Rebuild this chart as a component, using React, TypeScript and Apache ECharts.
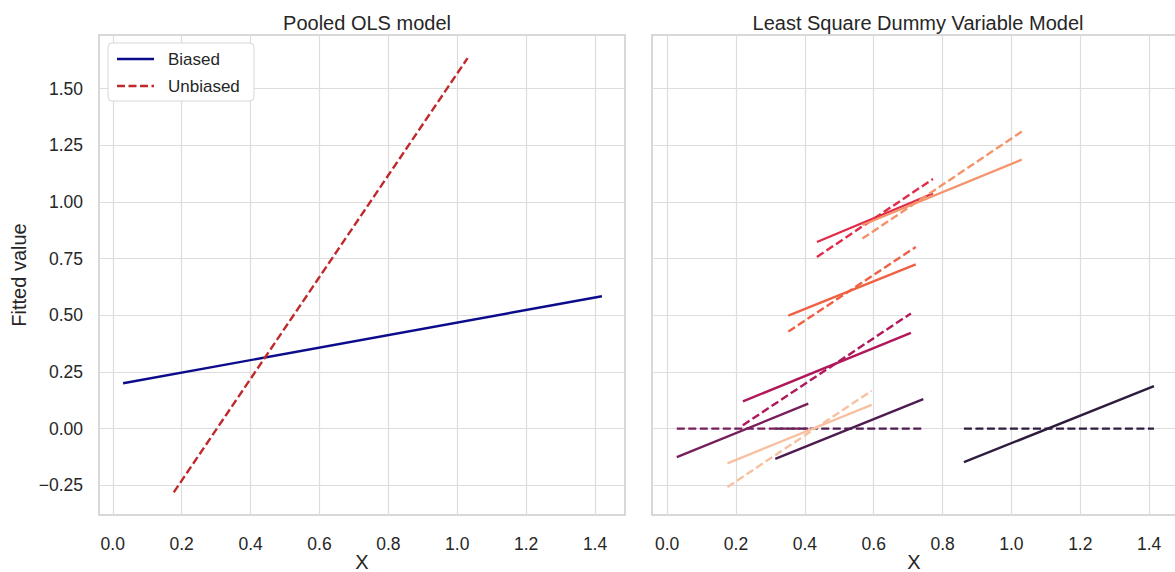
import React, { useEffect, useRef } from "react";
import * as echarts from "echarts";

// ---------- data ----------
const xTicks = [0, 0.2, 0.4, 0.6, 0.8, 1.0, 1.2, 1.4];
const yTicks = [-0.25, 0, 0.25, 0.5, 0.75, 1.0, 1.25, 1.5];

// Pooled OLS model
const biasedX = [0.03, 1.42];
const biasedY = [0.2, 0.584];
const unbiasedX = [0.177, 1.03];
const unbiasedY = [-0.281, 1.634];

// LSDV model, one entry per group
const groupXStart = [0.862, 0.314, 0.028, 0.22, 0.435, 0.352, 0.567, 0.175];
const groupXEnd = [1.414, 0.744, 0.41, 0.708, 0.772, 0.722, 1.03, 0.594];
const solidYStart = [-0.148, -0.133, -0.126, 0.12, 0.823, 0.498, 0.898, -0.153];
const solidYEnd = [0.187, 0.13, 0.11, 0.422, 1.037, 0.724, 1.186, 0.105];
const dashYStart = [0, 0, 0, 0.015, 0.757, 0.428, 0.838, -0.258];
const dashYEnd = [0, 0, 0, 0.508, 1.101, 0.801, 1.31, 0.167];
const groupColors = [
  "#2e1c3e",
  "#4d1b4f",
  "#771f5a",
  "#b0185a",
  "#e02c48",
  "#f06043",
  "#f5936a",
  "#f7c1a1",
];

const FONT = "'Liberation Sans', Arial, sans-serif";
const TXT = "#262626";
const GRID = "#dddddd";
const DASH = [8, 3.5];
const LW = 2.4;

export default function App() {
  const ref = useRef<HTMLDivElement>(null);

  useEffect(() => {
    document.body.style.margin = "0";
    const chart = echarts.init(ref.current!, null, { renderer: "svg" });

    const fmtY = (v: number) =>
      (v < 0 ? "\u2212" : "") + Math.abs(v).toFixed(2);
    const fmtX = (v: number) => v.toFixed(1);

    const mkX = (gi: number, min: number, max: number) => ({
      type: "value",
      gridIndex: gi,
      min,
      max,
      name: "X",
      nameLocation: "middle",
      nameGap: 37,
      nameMoveOverlap: false,
      nameTextStyle: { fontSize: 20, color: TXT, fontFamily: FONT },
      axisLine: { show: false },
      axisTick: { show: false, customValues: xTicks },
      axisLabel: {
        customValues: xTicks,
        formatter: fmtX,
        fontSize: 17.5,
        color: TXT,
        fontFamily: FONT,
        margin: 20,
      },
      splitLine: { show: true, lineStyle: { color: GRID, width: 1.2 } },
    });

    const mkY = (gi: number, showLabel: boolean) => ({
      type: "value",
      gridIndex: gi,
      min: -0.381,
      max: 1.736,
      name: showLabel ? "Fitted value" : "",
      nameLocation: "middle",
      nameGap: 70,
      nameMoveOverlap: false,
      nameTextStyle: { fontSize: 20, color: TXT, fontFamily: FONT },
      axisLine: { show: false },
      axisTick: { show: false, customValues: yTicks },
      axisLabel: {
        show: showLabel,
        customValues: yTicks,
        formatter: fmtY,
        fontSize: 17.5,
        color: TXT,
        fontFamily: FONT,
        margin: 16,
      },
      splitLine: { show: true, lineStyle: { color: GRID, width: 1.2 } },
    });

    const lineSeries = (
      xi: number,
      xs: number[],
      ys: number[],
      color: string,
      dashed: boolean
    ) => ({
      type: "line",
      xAxisIndex: xi,
      yAxisIndex: xi,
      data: xs.map((x, i) => [x, ys[i]]),
      showSymbol: false,
      symbol: "none",
      silent: true,
      lineStyle: { color, width: LW, type: dashed ? DASH : "solid" },
    });

    const series: any[] = [
      lineSeries(0, biasedX, biasedY, "#0b0b8c", false),
      lineSeries(0, unbiasedX, unbiasedY, "#c0292b", true),
    ];
    groupColors.forEach((c, g) => {
      const xs = [groupXStart[g], groupXEnd[g]];
      series.push(lineSeries(1, xs, [solidYStart[g], solidYEnd[g]], c, false));
      series.push(lineSeries(1, xs, [dashYStart[g], dashYEnd[g]], c, true));
    });

    const gridBase = {
      top: 35,
      height: 480,
      show: true,
      borderColor: "#cccccc",
      borderWidth: 1.5,
      backgroundColor: "transparent",
      containLabel: false,
      outerBoundsMode: "none",
    };

    const LZ = 200;

    chart.setOption({
      animation: false,
      backgroundColor: "#ffffff",
      title: [
        {
          text: "Pooled OLS model",
          left: 362,
          top: 8,
          textAlign: "center",
          textStyle: { fontSize: 20, fontWeight: "normal", color: TXT, fontFamily: FONT },
        },
        {
          text: "Least Square Dummy Variable Model",
          left: 913,
          top: 8,
          textAlign: "center",
          textStyle: { fontSize: 20, fontWeight: "normal", color: TXT, fontFamily: FONT },
        },
      ],
      grid: [
        { ...gridBase, left: 99, width: 526 },
        { ...gridBase, left: 652, width: 524 },
      ],
      xAxis: [mkX(0, -0.04, 1.487), mkX(1, -0.044, 1.478)],
      yAxis: [mkY(0, true), mkY(1, false)],
      series,
      graphic: [
        {
          type: "rect",
          z: LZ,
          shape: { x: 108, y: 43, width: 146, height: 58, r: 4 },
          style: { fill: "#ffffff", stroke: "#d6d6d6", lineWidth: 1 },
        },
        {
          type: "line",
          z: LZ + 1,
          shape: { x1: 117, y1: 59, x2: 154, y2: 59 },
          style: { stroke: "#0b0b8c", lineWidth: LW },
        },
        {
          type: "text",
          z: LZ + 1,
          x: 168,
          y: 59,
          style: { text: "Biased", fontSize: 17, fill: TXT, fontFamily: FONT, verticalAlign: "middle" },
        },
        {
          type: "line",
          z: LZ + 1,
          shape: { x1: 117, y1: 86, x2: 154, y2: 86 },
          style: { stroke: "#c0292b", lineWidth: LW, lineDash: DASH },
        },
        {
          type: "text",
          z: LZ + 1,
          x: 168,
          y: 86,
          style: { text: "Unbiased", fontSize: 17, fill: TXT, fontFamily: FONT, verticalAlign: "middle" },
        },
      ],
    });

    return () => chart.dispose();
  }, []);

  return (
    <div
      ref={ref}
      style={{ position: "fixed", left: 0, top: 0, width: 1175, height: 572 }}
    />
  );
}
